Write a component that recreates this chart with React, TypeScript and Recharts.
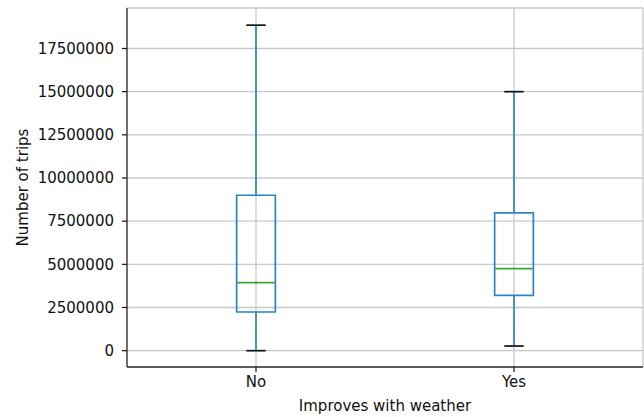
import React from 'react';
import {
  ComposedChart,
  XAxis,
  YAxis,
  CartesianGrid,
  ReferenceLine,
  ReferenceArea,
} from 'recharts';

const categories = ['No', 'Yes'];
const positions = [1, 2];
const whiskerLow = [0, 270000];
const q1 = [2240000, 3200000];
const median = [3940000, 4750000];
const q3 = [9000000, 7980000];
const whiskerHigh = [18850000, 15000000];
const yTicks = [0, 2500000, 5000000, 7500000, 10000000, 12500000, 15000000, 17500000];

const BOX_HALF = 0.075;
const CAP_HALF = 0.0375;
const X_DOMAIN: [number, number] = [0.5, 2.5];
const Y_DOMAIN: [number, number] = [-945000, 19845000];

const BLUE = '#2c84cb';
const GREEN = '#35a935';
const FONT = 'DejaVu Sans, sans-serif';

const tickStyle = { fontSize: 15, fill: '#111', fontFamily: FONT };

export default function App() {
  return (
    <div style={{ position: 'absolute', left: 0, top: 0, fontFamily: FONT, background: '#fff' }}>
      <ComposedChart width={644} height={417} margin={{ top: 8, right: 1, bottom: 0, left: 0 }}>
        <CartesianGrid stroke="#c8c8c8" strokeWidth={1.3} />
        <XAxis
          xAxisId={0}
          type="number"
          dataKey="x"
          domain={X_DOMAIN}
          ticks={positions}
          allowDataOverflow
          tickFormatter={(v: number) => categories[positions.indexOf(v)] ?? ''}
          height={50}
          tickSize={5}
          tickMargin={4}
          tick={tickStyle}
          axisLine={{ stroke: '#333', strokeWidth: 1.3 }}
          tickLine={{ stroke: '#111', strokeWidth: 1.2 }}
          label={{
            value: 'Improves with weather',
            position: 'insideBottom',
            offset: 6,
            style: { fontSize: 15, fill: '#111', fontFamily: FONT },
          }}
        />
        <XAxis
          xAxisId="top"
          orientation="top"
          type="number"
          domain={X_DOMAIN}
          allowDataOverflow
          height={0}
          tick={false}
          tickLine={false}
          axisLine={{ stroke: '#333', strokeWidth: 1.3 }}
        />
        <YAxis
          yAxisId={0}
          type="number"
          domain={Y_DOMAIN}
          ticks={yTicks}
          allowDataOverflow
          interval={0}
          width={127}
          tickSize={5}
          tickMargin={8}
          tick={tickStyle}
          axisLine={{ stroke: '#333', strokeWidth: 1.3 }}
          tickLine={{ stroke: '#111', strokeWidth: 1.2 }}
          label={{
            value: 'Number of trips',
            angle: -90,
            position: 'center',
            dx: -41,
            style: { fontSize: 15, fill: '#111', fontFamily: FONT, textAnchor: 'middle' },
          }}
        />
        <YAxis
          yAxisId="right"
          orientation="right"
          type="number"
          domain={Y_DOMAIN}
          allowDataOverflow
          width={0}
          tick={false}
          tickLine={false}
          axisLine={{ stroke: '#333', strokeWidth: 1.3 }}
        />
        {positions.map((p, i) => (
          <ReferenceLine
            key={`wl-${i}`}
            segment={[{ x: p, y: whiskerLow[i] }, { x: p, y: q1[i] }]}
            stroke={BLUE}
            strokeWidth={1.7}
            ifOverflow="visible"
          />
        ))}
        {positions.map((p, i) => (
          <ReferenceLine
            key={`wh-${i}`}
            segment={[{ x: p, y: q3[i] }, { x: p, y: whiskerHigh[i] }]}
            stroke={BLUE}
            strokeWidth={1.7}
            ifOverflow="visible"
          />
        ))}
        {positions.map((p, i) => (
          <ReferenceArea
            key={`box-${i}`}
            x1={p - BOX_HALF}
            x2={p + BOX_HALF}
            y1={q1[i]}
            y2={q3[i]}
            fill="none"
            fillOpacity={0}
            stroke={BLUE}
            strokeWidth={1.7}
            ifOverflow="visible"
          />
        ))}
        {positions.map((p, i) => (
          <ReferenceLine
            key={`med-${i}`}
            segment={[{ x: p - BOX_HALF, y: median[i] }, { x: p + BOX_HALF, y: median[i] }]}
            stroke={GREEN}
            strokeWidth={1.7}
            ifOverflow="visible"
          />
        ))}
        {positions.map((p, i) => (
          <ReferenceLine
            key={`capl-${i}`}
            segment={[{ x: p - CAP_HALF, y: whiskerLow[i] }, { x: p + CAP_HALF, y: whiskerLow[i] }]}
            stroke="#111"
            strokeWidth={1.7}
            ifOverflow="visible"
          />
        ))}
        {positions.map((p, i) => (
          <ReferenceLine
            key={`caph-${i}`}
            segment={[{ x: p - CAP_HALF, y: whiskerHigh[i] }, { x: p + CAP_HALF, y: whiskerHigh[i] }]}
            stroke="#111"
            strokeWidth={1.7}
            ifOverflow="visible"
          />
        ))}
      </ComposedChart>
    </div>
  );
}
